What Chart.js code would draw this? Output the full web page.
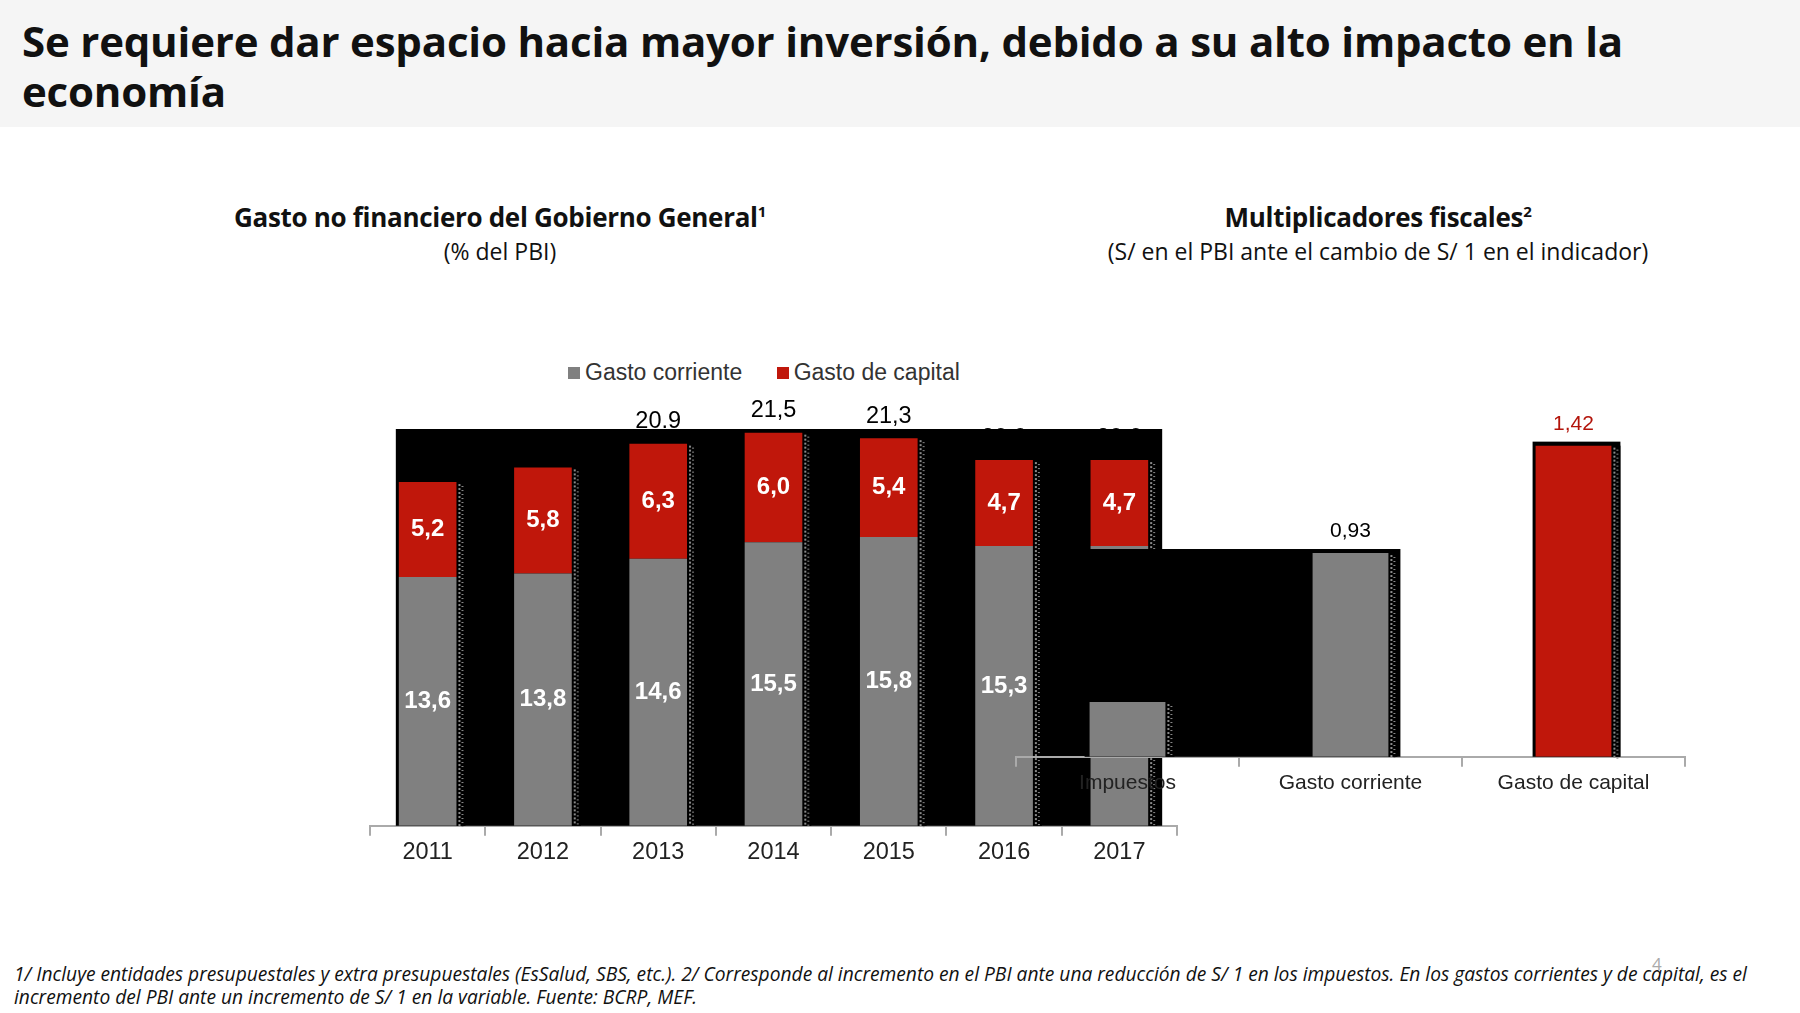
<!DOCTYPE html>
<html lang="es">
<head>
<meta charset="UTF-8">
<title>Gasto no financiero y multiplicadores fiscales</title>
<script src="https://cdn.jsdelivr.net/npm/chart.js"></script>
<style>
    body, html {
        margin: 0;
        padding: 0;
        width: 1800px;
        height: 1013px;
        background: #fff;
        overflow: hidden;
        font-family: 'Open Sans', sans-serif;
    }
    #header {
        position: absolute;
        left: 0; top: 0;
        width: 1800px; height: 127px;
        background: #f5f5f5;
    }
    #header h1 {
        margin: 0;
        position: absolute;
        left: 22px; top: 16px;
        font-size: 42px;
        line-height: 50px;
        font-weight: 700;
        color: #111;
        letter-spacing: -0.2px;
        white-space: nowrap;
    }
    .ctitle {
        position: absolute;
        text-align: center;
        color: #111;
        white-space: nowrap;
    }
    .ctitle .main { font-size: 26px; font-weight: 700; line-height: 34px; letter-spacing: -0.3px; }
    .ctitle .sub { font-size: 23px; line-height: 34px; }
    sup { font-size: 15px; line-height: 0; }
    #legend {
        position: absolute;
        left: 568px; top: 359px;
        font-family: 'Liberation Sans', Arial, sans-serif;
        font-size: 23px;
        color: #333;
        white-space: nowrap;
    }
    #legend span.box {
        display: inline-block;
        width: 12px; height: 12px;
        margin-right: 5px;
        vertical-align: 1px;
    }
    #legend span.item { margin-right: 28px; }
    canvas { position: absolute; }
    #left { left: 340px; top: 380px; }
    #right { left: 1000px; top: 400px; }
    #notes {
        position: absolute;
        left: 14px; top: 962px;
        font-size: 19.2px;
        line-height: 23px;
        font-style: italic;
        color: #111;
        white-space: nowrap;
    }
    #page {
        position: absolute;
        left: 1652px; top: 952px;
        font-size: 17px;
        color: #aaa;
    }
</style>
</head>
<body>
<div id="header">
    <h1>Se requiere dar espacio hacia mayor inversión, debido a su alto impacto en la<br>economía</h1>
</div>

<div class="ctitle" style="left:200px; width:600px; top:200px;">
    <div class="main">Gasto no financiero del Gobierno General<sup>1</sup></div>
    <div class="sub">(% del PBI)</div>
</div>
<div class="ctitle" style="left:1028px; width:700px; top:200px;">
    <div class="main">Multiplicadores fiscales<sup>2</sup></div>
    <div class="sub">(S/ en el PBI ante el cambio de S/ 1 en el indicador)</div>
</div>

<div id="legend">
    <span class="item"><span class="box" style="background:#808080"></span>Gasto corriente</span>
    <span><span class="box" style="background:#c0170b"></span>Gasto de capital</span>
</div>

<canvas id="left" width="850" height="490"></canvas>
<canvas id="right" width="720" height="400"></canvas>

<div id="notes">1/ Incluye entidades presupuestales y extra presupuestales (EsSalud, SBS, etc.). 2/ Corresponde al incremento en el PBI ante una reducción de S/ 1 en los impuestos. En los gastos corrientes y de capital, es el<br>incremento del PBI ante un incremento de S/ 1 en la variable. Fuente: BCRP, MEF.</div>
<div id="page">4</div>

<script>
    // Gasto no financiero (% del PBI)
    const years = ['2011', '2012', '2013', '2014', '2015', '2016', '2017'];
    const gastoCorriente = [13.6, 13.8, 14.6, 15.5, 15.8, 15.3, 15.3];
    const gastoCapital = [5.2, 5.8, 6.3, 6.0, 5.4, 4.7, 4.7];
    const totalLabels = ['18,8', '19,6', '20.9', '21,5', '21,3', '20,0', '20,0'];

    // Multiplicadores fiscales
    const multCategories = ['Impuestos', 'Gasto corriente', 'Gasto de capital'];
    const multValues = [0.25, 0.93, 1.42];

    const GRAY = '#808080';
    const RED = '#c0170b';
    const fmt = v => v.toFixed(1).replace('.', ',');

    Chart.defaults.font.family = "'Liberation Sans', Arial, sans-serif";
    Chart.defaults.animation = false;

    function dottedShadow(ctx, x, top, bottom) {
        ctx.fillStyle = '#000';
        ctx.fillRect(x, top, 9, bottom - top);
        ctx.fillStyle = '#8a8a8a';
        for (let y = top + 2; y < bottom - 1; y += 4) {
            ctx.fillRect(x + 2, y, 2, 2);
            ctx.fillRect(x + 5, y + 2, 2, 1);
        }
    }

    const leftPanel = {
        id: 'leftPanel',
        beforeDatasetsDraw(chart) {
            const ctx = chart.ctx;
            const ca = chart.chartArea;
            const bars = chart.getDatasetMeta(0).data;
            const tops = chart.getDatasetMeta(1).data;
            const first = bars[0], last = bars[bars.length - 1];
            const x0 = first.x - first.width / 2 - 3;
            const x1 = last.x + last.width / 2 + 14;
            ctx.save();
            ctx.fillStyle = '#000';
            ctx.fillRect(x0, ca.top, x1 - x0, ca.bottom - ca.top);
            tops.forEach(el => dottedShadow(ctx, el.x + el.width / 2, el.y, ca.bottom));
            ctx.restore();
        },
        afterDatasetsDraw(chart) {
            const ctx = chart.ctx;
            ctx.save();
            ctx.textAlign = 'center';
            ctx.textBaseline = 'middle';
            ctx.font = "bold 24px 'Liberation Sans', Arial, sans-serif";
            ctx.fillStyle = '#fff';
            chart.data.datasets.forEach((ds, di) => {
                chart.getDatasetMeta(di).data.forEach((el, i) => {
                    ctx.fillText(fmt(ds.data[i]), el.x, (el.y + el.base) / 2);
                });
            });
            ctx.font = "23.5px 'Liberation Sans', Arial, sans-serif";
            ctx.fillStyle = '#000';
            chart.getDatasetMeta(1).data.forEach((el, i) => {
                ctx.fillText(totalLabels[i], el.x, el.y - 22);
            });
            ctx.restore();
        }
    };

    new Chart(document.getElementById('left'), {
        type: 'bar',
        data: {
            labels: years,
            datasets: [
                { label: 'Gasto corriente', data: gastoCorriente, backgroundColor: GRAY },
                { label: 'Gasto de capital', data: gastoCapital, backgroundColor: RED }
            ]
        },
        options: {
            responsive: false,
            layout: { padding: { top: 49, left: 30, right: 13, bottom: 0 } },
            datasets: { bar: { barPercentage: 0.5, categoryPercentage: 1 } },
            plugins: { legend: { display: false }, tooltip: { enabled: false } },
            scales: {
                x: {
                    stacked: true,
                    border: { color: '#aaa', width: 2 },
                    grid: { drawOnChartArea: false, color: '#aaa', tickLength: 10, lineWidth: 2 },
                    ticks: { color: '#222', font: { size: 23.5 }, padding: 3 }
                },
                y: { stacked: true, display: false, min: 0, max: 21.7 }
            }
        },
        plugins: [leftPanel]
    });

    const rightPanel = {
        id: 'rightPanel',
        beforeDatasetsDraw(chart) {
            const ctx = chart.ctx;
            const ca = chart.chartArea;
            const bars = chart.getDatasetMeta(0).data;
            ctx.save();
            ctx.fillStyle = '#000';
            const a = bars[0], b = bars[1], c = bars[2];
            ctx.fillRect(a.x - a.width / 2 - 5, b.y - 4, (b.x + b.width / 2 + 12) - (a.x - a.width / 2 - 5), ca.bottom - b.y + 4);
            ctx.fillRect(c.x - c.width / 2 - 3, c.y - 4, c.width + 12, ca.bottom - c.y + 4);
            bars.forEach(el => dottedShadow(ctx, el.x + el.width / 2, el.y, ca.bottom));
            ctx.restore();
        },
        afterDatasetsDraw(chart) {
            const ctx = chart.ctx;
            const bars = chart.getDatasetMeta(0).data;
            ctx.save();
            ctx.textAlign = 'center';
            ctx.textBaseline = 'middle';
            ctx.font = "21px 'Liberation Sans', Arial, sans-serif";
            ctx.fillStyle = '#000';
            ctx.fillText(multValues[1].toFixed(2).replace('.', ','), bars[1].x, bars[1].y - 22);
            ctx.fillStyle = '#b3140a';
            ctx.fillText(multValues[2].toFixed(2).replace('.', ','), bars[2].x, bars[2].y - 21);
            ctx.restore();
        }
    };

    new Chart(document.getElementById('right'), {
        type: 'bar',
        data: {
            labels: multCategories,
            datasets: [
                { label: 'Multiplicador', data: multValues, backgroundColor: [GRAY, GRAY, RED] }
            ]
        },
        options: {
            responsive: false,
            layout: { padding: { top: 20, left: 16, right: 35, bottom: 0 } },
            datasets: { bar: { barPercentage: 0.34, categoryPercentage: 1 } },
            plugins: { legend: { display: false }, tooltip: { enabled: false } },
            scales: {
                x: {
                    border: { color: '#aaa', width: 2 },
                    grid: { drawOnChartArea: false, color: '#aaa', tickLength: 10, lineWidth: 2 },
                    ticks: { color: '#222', font: { size: 21 }, padding: 4 }
                },
                y: { display: false, min: 0, max: 1.537 }
            }
        },
        plugins: [rightPanel]
    });
</script>
</body>
</html>
